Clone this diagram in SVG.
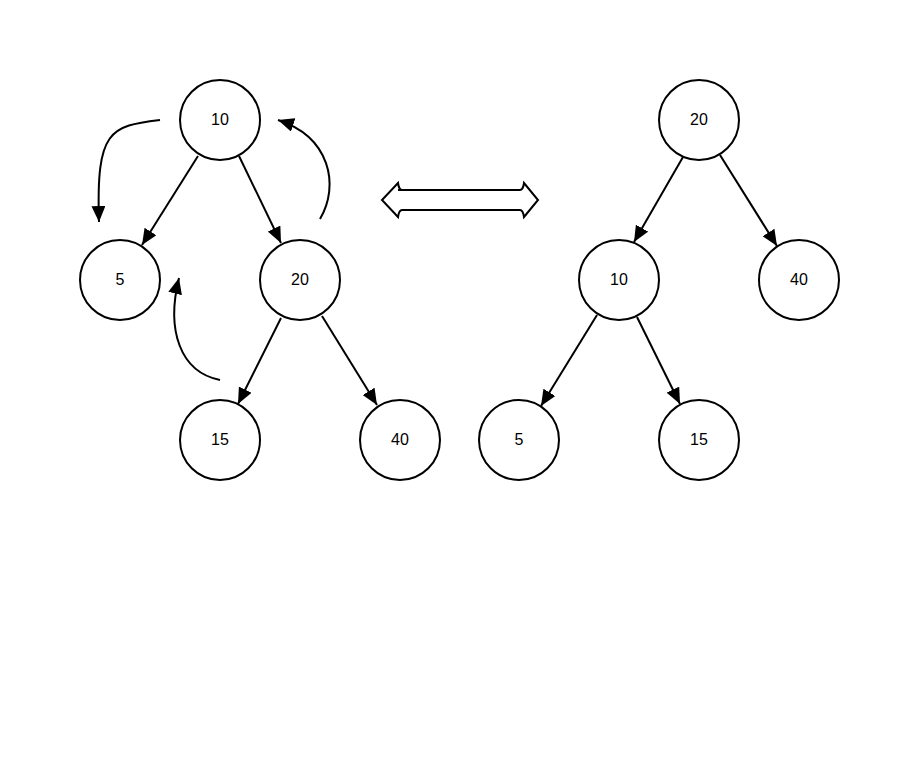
<svg xmlns="http://www.w3.org/2000/svg" width="918" height="778" viewBox="0 0 918 778">
<style>
circle{fill:#fff;stroke:#000;stroke-width:2}
text{font-family:"Liberation Sans",Arial,sans-serif;font-size:16px;text-anchor:middle;dominant-baseline:central}
.e{fill:none;stroke:#000;stroke-width:2;marker-end:url(#a)}
</style>
<defs><marker id="a" markerWidth="10" markerHeight="10" viewBox="0 0 10 10" refX="9" refY="5" orient="auto" markerUnits="userSpaceOnUse" ><path d="M0,0 L10,5 L0,10 Z" transform="scale(1.6)" /></marker>
<marker id="b" viewBox="0 0 16 14" refX="16" refY="7" markerWidth="16" markerHeight="14" orient="auto" markerUnits="userSpaceOnUse"><path d="M0,0 L16,7 L0,14 Z"/></marker></defs>
<rect width="918" height="778" fill="#fff"/>
<g id="connectors">
<path d="M198,156 L142,245" fill="none" stroke="#000" stroke-width="2" marker-end="url(#b)"/>
<path d="M239,156 L281,243" fill="none" stroke="#000" stroke-width="2" marker-end="url(#b)"/>
<path d="M281,318 L238,404" fill="none" stroke="#000" stroke-width="2" marker-end="url(#b)"/>
<path d="M322,316 L377,405" fill="none" stroke="#000" stroke-width="2" marker-end="url(#b)"/>
<path d="M683,157 L634,242" fill="none" stroke="#000" stroke-width="2" marker-end="url(#b)"/>
<path d="M720,155 L777,246" fill="none" stroke="#000" stroke-width="2" marker-end="url(#b)"/>
<path d="M597,315 L541,406" fill="none" stroke="#000" stroke-width="2" marker-end="url(#b)"/>
<path d="M637,317 L680,404" fill="none" stroke="#000" stroke-width="2" marker-end="url(#b)"/>
<path d="M160,120 C110,126 96,130 99,222" fill="none" stroke="#000" stroke-width="2" marker-end="url(#b)"/>
<path d="M320,219 C340,185 330,137 278,120" fill="none" stroke="#000" stroke-width="2" marker-end="url(#b)"/>
<path d="M220,380 C180,372 166,330 179,278" fill="none" stroke="#000" stroke-width="2" marker-end="url(#b)"/>
<path d="M398,190 L520,190 Q523,190 524,183 L538,200 L524,217 Q523,210 520,210 L402,210 Q399,210 398,217 L382,200 L398,183 Q399,190 402,190 Z" fill="#fff" stroke="#000" stroke-width="2"/>
</g>
<g id="n10"><circle cx="220" cy="120" r="40"/><text x="220" y="119">10</text></g>
<g id="n5"><circle cx="120" cy="280" r="40"/><text x="120" y="279">5</text></g>
<g id="n20"><circle cx="300" cy="280" r="40"/><text x="300" y="279">20</text></g>
<g id="n15"><circle cx="220" cy="440" r="40"/><text x="220" y="439">15</text></g>
<g id="n40"><circle cx="400" cy="440" r="40"/><text x="400" y="439">40</text></g>
<g id="r20"><circle cx="699" cy="120" r="40"/><text x="699" y="119">20</text></g>
<g id="r10"><circle cx="619" cy="280" r="40"/><text x="619" y="279">10</text></g>
<g id="r40"><circle cx="799" cy="280" r="40"/><text x="799" y="279">40</text></g>
<g id="r5"><circle cx="519" cy="440" r="40"/><text x="519" y="439">5</text></g>
<g id="r15"><circle cx="699" cy="440" r="40"/><text x="699" y="439">15</text></g>
</svg>
